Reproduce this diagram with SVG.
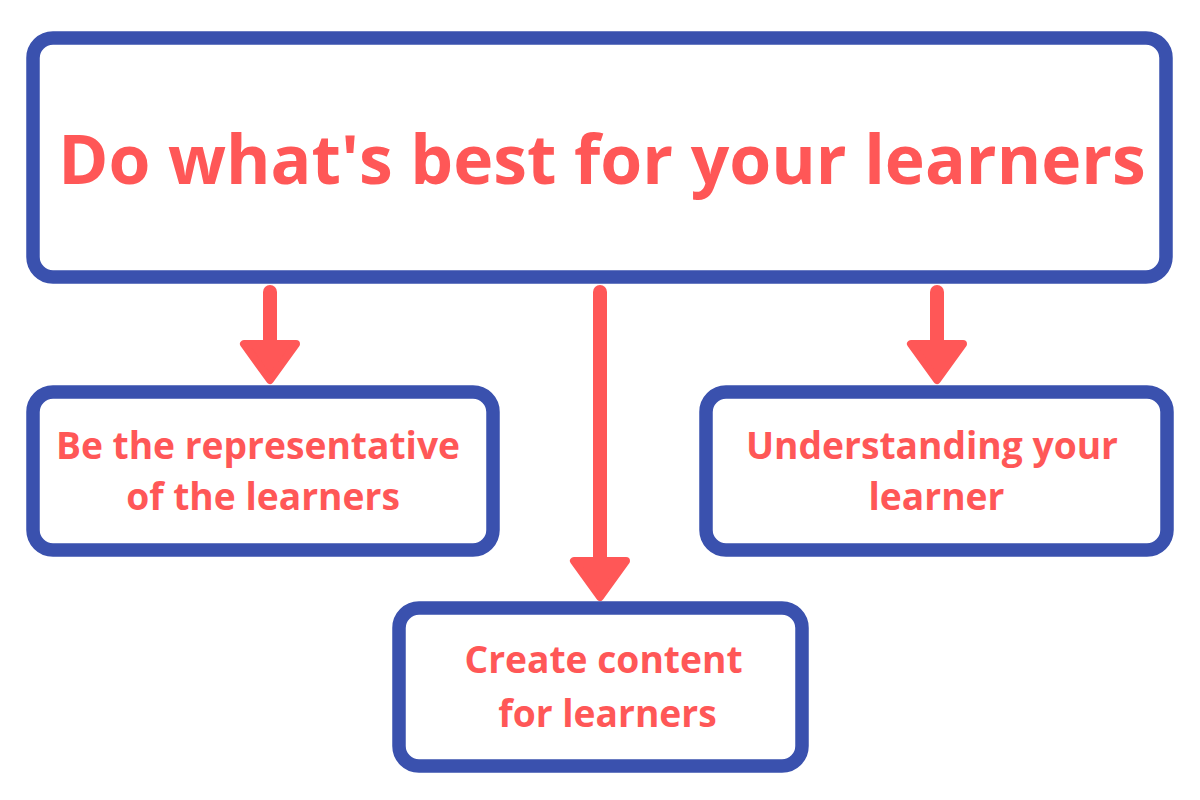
<svg xmlns="http://www.w3.org/2000/svg" width="1200" height="800" viewBox="0 0 1200 800">
  <style>
    .box { fill: #ffffff; stroke: #3A51AE; stroke-width: 13.5; }
    .lbl { fill: #FF5757; font-family: "Open Sans", "Noto Sans", "Liberation Sans", sans-serif; font-weight: 700; text-anchor: middle; }
    .sm { font-size: 37.2px; }
    .shaft { stroke: #FF5757; stroke-width: 14; stroke-linecap: round; fill: none; }
    .head { fill: #FF5757; stroke: #FF5757; stroke-width: 8; stroke-linejoin: round; }
  </style>
  <rect width="1200" height="800" fill="#ffffff"/>
  <g id="connectors">
    <line class="shaft" x1="270" y1="292" x2="270" y2="345"/>
    <polygon class="head" points="244,344 296,344 270,380"/>
    <line class="shaft" x1="600" y1="292" x2="600" y2="562"/>
    <polygon class="head" points="574,561 626,561 600,597"/>
    <line class="shaft" x1="937" y1="292" x2="937" y2="345"/>
    <polygon class="head" points="911,344 963,344 937,380"/>
  </g>
  <g id="root">
    <rect class="box" x="33" y="38" width="1133" height="239" rx="20"/>
    <text class="lbl" x="602" y="184" font-size="67.8">Do what's best for your learners</text>
  </g>
  <g id="node-representative">
    <rect class="box" x="33" y="392" width="460" height="158" rx="20"/>
    <text class="lbl sm" x="258" y="459">Be the representative</text>
    <text class="lbl sm" x="263" y="510">of the learners</text>
  </g>
  <g id="node-content">
    <rect class="box" x="399" y="608" width="403" height="158" rx="20"/>
    <text class="lbl sm" x="603.5" y="673">Create content</text>
    <text class="lbl sm" x="607.5" y="727">for learners</text>
  </g>
  <g id="node-understanding">
    <rect class="box" x="706" y="392" width="461" height="158" rx="20"/>
    <text class="lbl sm" x="932" y="459">Understanding your</text>
    <text class="lbl sm" x="936.5" y="510">learner</text>
  </g>
</svg>
